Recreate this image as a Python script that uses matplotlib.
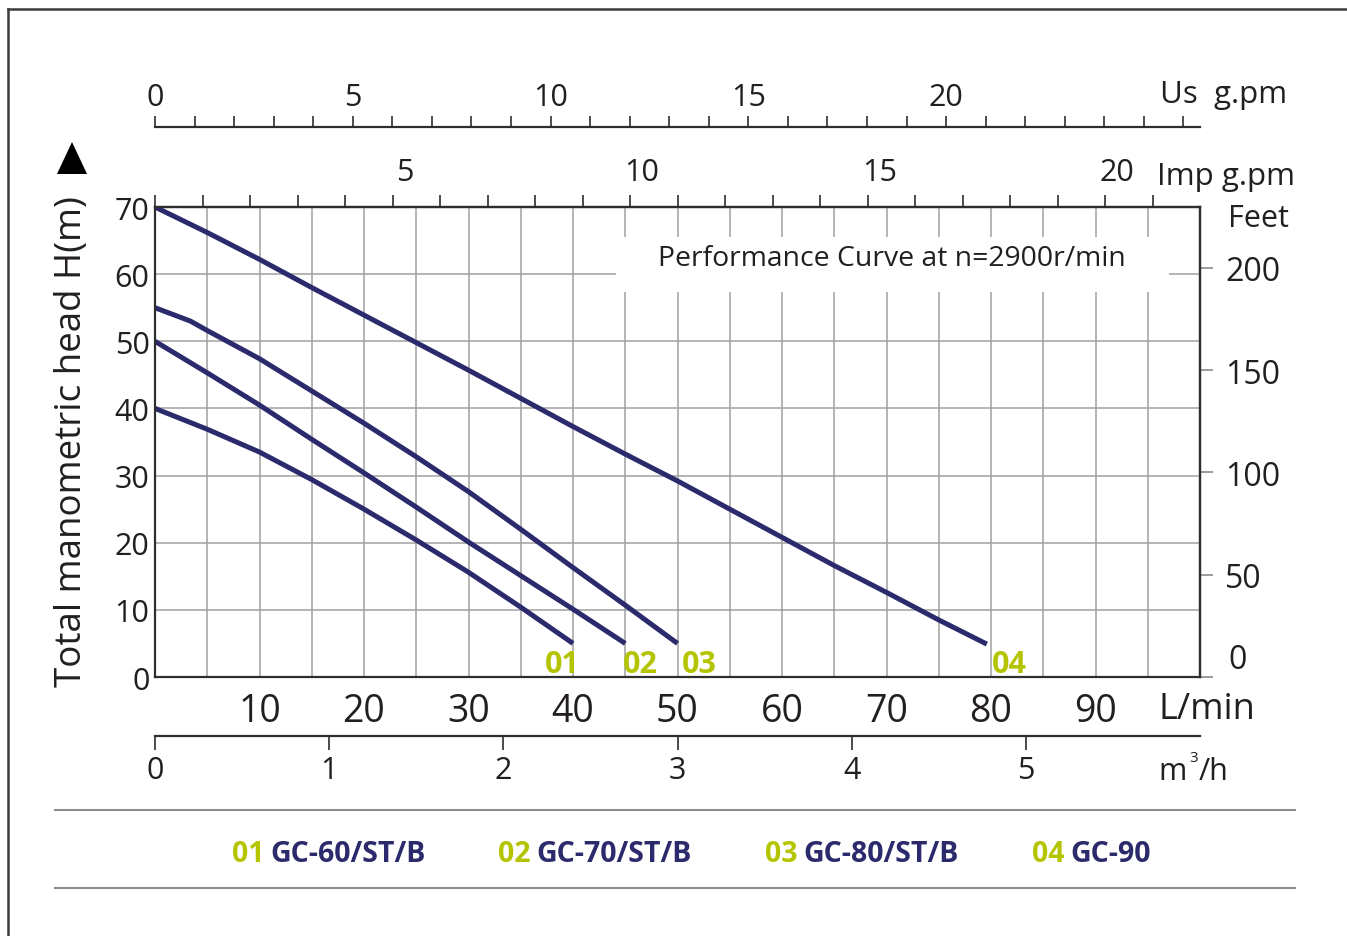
import matplotlib.pyplot as plt
import matplotlib.lines as mlines
import matplotlib.patches as mpatches
from matplotlib.transforms import ScaledTranslation
import numpy as np

plt.rcParams['font.family'] = ['Open Sans', 'DejaVu Sans']

# flow in L/min, head in m
flow_01 = [0, 5, 10, 15, 20, 25, 30, 35, 40]
head_01 = [40, 36.9, 33.5, 29.4, 25.0, 20.4, 15.6, 10.4, 5.0]
flow_02 = [0, 5, 10, 15, 20, 25, 30, 35, 40, 45]
head_02 = [50, 45.3, 40.5, 35.4, 30.4, 25.3, 20.1, 15.1, 10.1, 5.0]
flow_03 = [0, 3.4, 5, 10, 15, 20, 25, 30, 35, 40, 45, 50]
head_03 = [55, 53.0, 51.6, 47.4, 42.6, 37.8, 32.8, 27.6, 22.0, 16.3, 10.7, 5.0]
flow_04 = [0, 5, 10, 15, 20, 25, 30, 35, 40, 45, 50, 55, 60, 65, 70, 75, 79.6]
head_04 = [70, 66.2, 62.2, 58.0, 53.9, 49.8, 45.7, 41.5, 37.3, 33.2, 29.2, 25.0,
           20.8, 16.6, 12.6, 8.5, 4.9]

curve_ids = ['01', '02', '03', '04']
models = ['GC-60/ST/B', 'GC-70/ST/B', 'GC-80/ST/B', 'GC-90']
flows = [flow_01, flow_02, flow_03, flow_04]
heads = [head_01, head_02, head_03, head_04]

lmin_ticks = [10, 20, 30, 40, 50, 60, 70, 80, 90]
head_ticks = [0, 10, 20, 30, 40, 50, 60, 70]
feet_ticks = [0, 50, 100, 150, 200]
m3h_ticks = [0, 1, 2, 3, 4, 5]
imp_labels = [5, 10, 15, 20]
us_labels = [0, 5, 10, 15, 20]

NAVY = '#2b2a6c'
GREEN = '#b5c400'
DARK = '#2e2e2e'
GRID = '#a0a0a0'
TXT = '#231f20'

W, H = 1347, 937
fig = plt.figure(figsize=(W / 100, H / 100), dpi=100)


def fx(x):
    return x / W


def fy(y):
    return 1 - y / H


ax = fig.add_axes([fx(155), fy(678), (1200 - 155) / W, (678 - 208) / H])
ax.set_xlim(0, 100)
ax.set_ylim(0, 70)
ax.set_axisbelow(True)

# grid: every 5 L/min, every 10 m
ax.set_xticks(np.arange(0, 101, 5))
ax.set_xticklabels([str(v) if v in lmin_ticks else '' for v in np.arange(0, 101, 5)],
                   fontsize=27)
ax.set_yticks(head_ticks)
ax.set_yticklabels([str(v) for v in head_ticks], fontsize=22)
ax.tick_params(axis='x', length=0, pad=11, colors=TXT)
ax.tick_params(axis='y', length=0, pad=4, colors=TXT)
ax.grid(True, color=GRID, linewidth=1.1)
for s in ax.spines.values():
    s.set_color(DARK)
    s.set_linewidth(1.6)

# white box behind the title
ax.add_patch(mpatches.Rectangle((44.1, 57.3), 52.9, 8.2, facecolor='white',
                                edgecolor='none', zorder=1))
ax.text(70.5, 62.4, 'Performance Curve at n=2900r/min', fontsize=20.4,
        ha='center', va='center', color=TXT, zorder=3)

label_dx = [-1.0, 1.4, 2.1, 2.2]
for cid, q, h, dx in zip(curve_ids, flows, heads, label_dx):
    ax.plot(q, h, color=NAVY, linewidth=3.6, solid_capstyle='butt',
            solid_joinstyle='round', zorder=2)
    ax.text(q[-1] + dx, 2.0, cid, color=GREEN, fontsize=22, fontweight='bold',
            ha='center', va='center', zorder=3)

# Imp gallons on the top spine
imp = ax.secondary_xaxis('top', functions=(lambda x: x / 4.54609, lambda x: x * 4.54609))
imp.set_xticks(np.arange(0, 23))
imp.set_xticklabels([])
imp.tick_params(length=8.6, width=1.2, colors=DARK)
imp.spines['top'].set_color(DARK)
imp.spines['top'].set_linewidth(1.6)
imp_off = ax.get_xaxis_transform() + ScaledTranslation(0.12, 0.20, fig.dpi_scale_trans)
for v in imp_labels:
    ax.text(v * 4.54609, 1.0, str(v), transform=imp_off, fontsize=22, color=TXT,
            ha='center', va='bottom')

# US gallons, separate scale above
us = ax.secondary_xaxis((678 - 128) / 470, functions=(lambda x: x / 3.785411784,
                                                      lambda x: x * 3.785411784))
us.set_xticks(np.arange(0, 27))
us.set_xticklabels([str(v) if v in us_labels else '' for v in range(27)], fontsize=22)
us.tick_params(length=8, width=1.2, pad=2.5, colors=DARK, labelcolor=TXT)
for s in us.spines.values():
    s.set_color(DARK)
    s.set_linewidth(1.6)

# m3/h scale below
m3h = ax.secondary_xaxis(-(737 - 678) / 470, functions=(lambda x: x * 0.06,
                                                        lambda x: x / 0.06))
m3h.set_xticks(m3h_ticks)
m3h.set_xticklabels([str(v) for v in m3h_ticks], fontsize=22)
m3h.tick_params(length=10, width=1.2, pad=4, colors=DARK, labelcolor=TXT)
for s in m3h.spines.values():
    s.set_color(DARK)
    s.set_linewidth(1.6)

# feet on the right
ft = ax.secondary_yaxis('right', functions=(lambda m: m * 3.28084, lambda f: f / 3.28084))
ft.set_yticks(feet_ticks)
ft.set_yticklabels(['' if v == 0 else str(v) for v in feet_ticks], fontsize=23)
ft.tick_params(length=9, width=1.2, pad=9, color='#8a8a8a', labelcolor=TXT)
ft.spines['right'].set_color(DARK)
ft.spines['right'].set_linewidth(1.6)
fig.text(fx(1228), fy(661), '0', fontsize=23, ha='left', va='center', color=TXT)

# unit labels
fig.text(fx(1160), fy(95), 'Us  g.pm', fontsize=22.5, ha='left', va='center', color=TXT)
fig.text(fx(1157), fy(177), 'Imp g.pm', fontsize=22.5, ha='left', va='center', color=TXT)
fig.text(fx(1228), fy(219), 'Feet', fontsize=22, ha='left', va='center', color=TXT)
fig.text(fx(1158), fy(710), 'L/min', fontsize=26, ha='left', va='center', color=TXT)
fig.text(fx(1158), fy(772), 'm', fontsize=22, ha='left', va='center', color=TXT)
fig.text(fx(1189), fy(759), '3', fontsize=11, ha='left', va='center', color=TXT)
fig.text(fx(1199), fy(772), '/h', fontsize=22, ha='left', va='center', color=TXT)
fig.text(fx(72), fy(442), 'Total manometric head H(m)', fontsize=26.5, rotation=90,
         ha='center', va='center', color=TXT)
fig.add_artist(mpatches.Polygon([(fx(57), fy(175)), (fx(87), fy(175)), (fx(72), fy(143))],
                                closed=True, facecolor='black', edgecolor='none',
                                transform=fig.transFigure))

# legend strip
for yy in (811, 889):
    fig.add_artist(mlines.Line2D([fx(55), fx(1295)], [fy(yy), fy(yy)], color='#8c8c8c',
                                 linewidth=1.5, transform=fig.transFigure))
leg_x = [232, 498, 765, 1032]
for cid, name, x0 in zip(curve_ids, models, leg_x):
    fig.text(fx(x0), fy(855), cid, color=GREEN, fontsize=20.5, fontweight='bold',
             ha='left', va='center')
    fig.text(fx(x0 + 38), fy(855), name, color=NAVY, fontsize=20.5, fontweight='bold',
             ha='left', va='center')

# outer frame (top and left edges visible)
fig.add_artist(mlines.Line2D([fx(8), fx(1347)], [fy(10), fy(10)], color='#3c3c3c',
                             linewidth=1.8, transform=fig.transFigure))
fig.add_artist(mlines.Line2D([fx(8), fx(8)], [fy(10), fy(937)], color='#3c3c3c',
                             linewidth=1.8, transform=fig.transFigure))

fig.savefig('out.png', dpi=100)
